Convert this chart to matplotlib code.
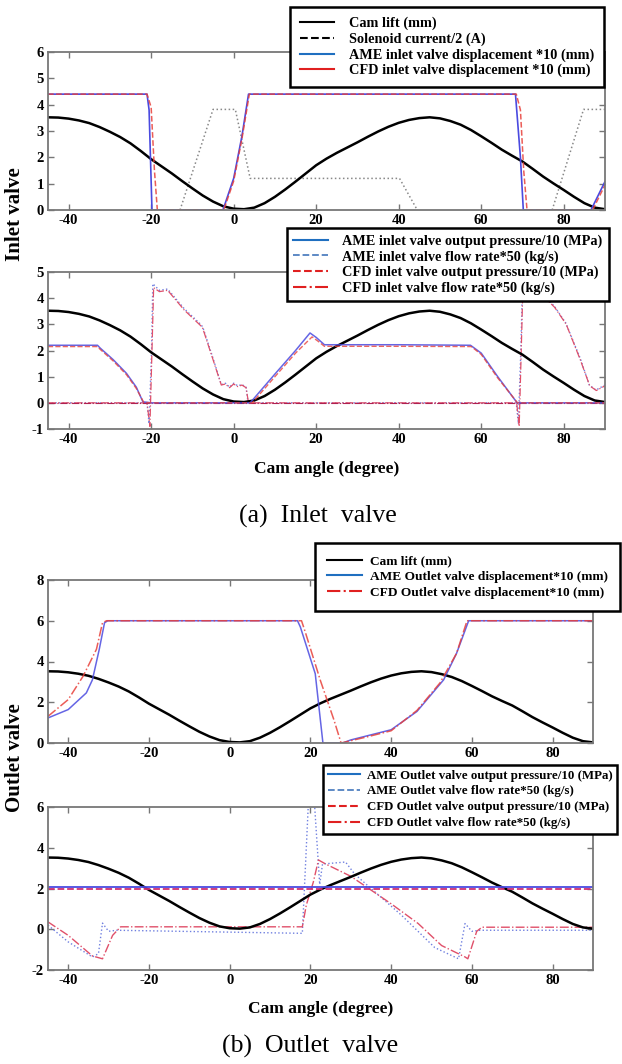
import matplotlib
matplotlib.use("Agg")
import matplotlib.pyplot as plt
from matplotlib.lines import Line2D
import numpy as np

plt.rcParams['font.family'] = ['Liberation Serif', 'DejaVu Serif']
plt.rcParams['axes.unicode_minus'] = False

# cam lift (mm), same profile in every panel
cam_angle = [-45, -42.5, -40, -37.5, -35, -32.5, -30, -27.5, -25, -22.5, -20, -17.5, -15, -12.5,
             -10, -7.5, -5, -2.5, 0, 2.5, 5, 7.5, 10, 12.5, 15, 17.5, 20, 22.5, 25, 27.5, 30,
             32.5, 35, 37.5, 40, 42.5, 45, 47.5, 50, 52.5, 55, 57.5, 60, 62.5, 65, 67.5, 70,
             72.5, 75, 77.5, 80, 82.5, 85, 87.5, 90]
cam_lift = [3.52, 3.51, 3.47, 3.40, 3.30, 3.15, 2.97, 2.77, 2.53, 2.24, 1.93, 1.66, 1.39, 1.10,
            0.82, 0.55, 0.32, 0.14, 0.05, 0.03, 0.09, 0.26, 0.50, 0.78, 1.08, 1.39, 1.70, 1.95,
            2.17, 2.37, 2.57, 2.78, 2.98, 3.16, 3.31, 3.42, 3.49, 3.52, 3.48, 3.38, 3.24, 3.04,
            2.80, 2.55, 2.29, 2.06, 1.84, 1.56, 1.27, 1.01, 0.76, 0.50, 0.26, 0.09, 0.03]

# (a) inlet valve, top panel
sol_angle = [-13, -5, 0.4, 4, 40.2, 44.5, np.nan, 77.2, 84.8, 90]
sol_current = [0, 3.82, 3.82, 1.2, 1.2, 0, np.nan, 0, 3.82, 3.82]

ame_in_disp_angle = [-45, -21, -20.5, -19.8, -2.6, 0, 2, 3.6, 68.3, 69.5, 70.2, 86.6, 90]
ame_in_disp = [4.4, 4.4, 3.8, 0, 0, 1.2, 2.8, 4.4, 4.4, 2.0, 0, 0, 1.08]
cfd_in_disp_angle = [-45, -21, -20, -19.2, -18.5, -2.4, 0, 2, 3.8, 68.5, 69.5, 70.3, 71.1, 87, 90]
cfd_in_disp = [4.4, 4.4, 3.9, 1.5, 0, 0, 1.1, 2.7, 4.4, 4.4, 3.8, 1.5, 0, 0, 0.95]

# (a) inlet valve, bottom panel
ame_in_p_angle = [-45, -33, -32.4, -29.2, -26, -23.6, -22, -20, 4, 10, 15, 18.5, 20, 22, 40,
                  57.4, 60, 64, 68.7, 90]
ame_in_p = [2.2, 2.2, 2.1, 1.65, 1.13, 0.6, 0.04, 0, 0, 1.1, 2.0, 2.67, 2.5, 2.22, 2.22,
            2.2, 1.9, 1.0, 0, 0]
cfd_in_p_angle = [-45, -33, -32.4, -29.2, -26, -23.6, -21.8, -20, 4.5, 10, 15, 19, 20.5, 22, 40,
                  57.6, 60, 64, 68.8, 90]
cfd_in_p = [2.15, 2.15, 2.05, 1.6, 1.08, 0.55, 0.02, 0, 0, 1.0, 1.9, 2.52, 2.35, 2.16, 2.16,
            2.15, 1.85, 0.95, 0, 0]

ame_in_q_angle = [-45, -21, -20.5, -19.9, -19.6, -18, -16, -12, -8, -7.5, -5, -3, -2, -1, 0, 1,
                  2, 3, 3.5, 68.5, 69, 69.6, 70, 71.5, 73.5, 77.7, 80.5, 84, 86.2, 87.8, 90]
ame_in_q = [0, 0, -0.8, 2.0, 4.55, 4.3, 4.35, 3.6, 3.0, 2.9, 1.7, 0.7, 0.75, 0.6, 0.75, 0.65,
            0.7, 0.6, 0, 0, -0.8, 2.0, 4.5, 4.3, 4.35, 3.7, 3.05, 1.7, 0.68, 0.49, 0.68]
cfd_in_q_angle = [-45, -21, -20.3, -19.8, -19.4, -18, -16, -12, -8, -7.5, -5, -3, -2, -1, 0, 1,
                  2, 3, 3.6, 68.6, 69.2, 69.7, 70.1, 71.6, 73.6, 77.8, 80.6, 84, 86.3, 87.9, 90]
cfd_in_q = [0, 0, -0.9, 2.0, 4.4, 4.25, 4.3, 3.55, 2.95, 2.85, 1.65, 0.68, 0.72, 0.58, 0.72, 0.62,
            0.68, 0.58, 0, 0, -0.9, 2.0, 4.45, 4.25, 4.3, 3.65, 3.0, 1.65, 0.65, 0.47, 0.65]

# (b) outlet valve, top panel
ame_out_disp_angle = [-45, -40, -35.5, -34, -32.3, -31, -30.2, 16.8, 17.5, 21.2, 23.1, 28, 30,
                      40, 46.4, 53, 56.2, 59.2, 90]
ame_out_disp = [1.23, 1.64, 2.46, 3.1, 4.6, 5.9, 6, 6, 5.7, 3.4, 0, 0, 0.15,
                0.65, 1.55, 3.1, 4.4, 6, 6]
cfd_out_disp_angle = [-45, -40, -36.3, -33, -31.5, -30.5, 17.8, 18.8, 22.5, 25.8, 27.6, 34,
                      40, 46.4, 52.1, 56.2, 58.8, 90]
cfd_out_disp = [1.31, 2.13, 3.28, 4.6, 5.9, 6, 6, 5.4, 3.05, 1.15, 0, 0.3,
                0.6, 1.6, 2.95, 4.4, 6, 6]

# (b) outlet valve, bottom panel
out_p_angle = [-45, 90]
ame_out_p = [2.05, 2.05]
cfd_out_p = [1.98, 1.98]

ame_out_q_angle = [-45, -40, -34, -32.5, -31.5, -30, -28, 18, 19.5, 21, 22.3, 23, 28.7, 31,
                   42.5, 50.8, 56.7, 58.3, 60, 62, 90]
ame_out_q = [0.2, -0.62, -1.36, -1.2, 0.3, -0.1, -0.05, -0.2, 6.2, 6.2, 2.2, 3.2, 3.3, 2.7,
             0.7, -0.9, -1.45, 0.28, -0.1, -0.05, -0.05]
cfd_out_q_angle = [-45, -40, -34, -31.5, -29, -27, 18, 19, 20.7, 22, 23.8, 30, 40, 46.7,
                   52.5, 58.3, 59, 61.2, 62.5, 90]
cfd_out_q = [0.36, -0.3, -1.31, -1.45, -0.3, 0.12, 0.12, 1.2, 2.3, 3.4, 3.2, 2.6, 1.25, 0.28,
             -0.8, -1.36, -1.45, -0.1, 0.1, 0.1]

x_ticks = [-40, -20, 0, 20, 40, 60, 80]

W, H = 622, 1064
fig = plt.figure(figsize=(W / 100, H / 100), dpi=100)


def px_axes(left, top, right, bottom):
    return fig.add_axes([left / W, 1 - bottom / H, (right - left) / W, (bottom - top) / H])


def style(ax, ylim, yticks):
    ax.set_xlim(-45, 90)
    ax.set_ylim(*ylim)
    ax.set_xticks(x_ticks)
    ax.set_yticks(yticks)
    ax.tick_params(direction='in', top=True, right=True, length=4, width=1,
                   color='#777777', labelsize=10.5, pad=3)
    for lab in ax.get_xticklabels() + ax.get_yticklabels():
        lab.set_fontweight('bold')
    for sp in ax.spines.values():
        sp.set_color('#777777')
        sp.set_linewidth(1.3)


blue = '#4a4ae0'
red = '#e8403a'
lblue = '#1f6fc0'

ax1 = px_axes(48, 52, 605, 210)
ax2 = px_axes(48, 272, 605, 429)
ax3 = px_axes(48, 580, 593, 743)
ax4 = px_axes(48, 807, 593, 970)

# panel 1
ax1.plot(sol_angle, sol_current, color='#888888', ls=':', lw=1.1)
ax1.plot(cam_angle, cam_lift, color='black', lw=1.8)
ax1.plot(ame_in_disp_angle, ame_in_disp, color=blue, lw=1.2)
ax1.plot(cfd_in_disp_angle, cfd_in_disp, color=red, ls='--', lw=1.1, alpha=0.85)
style(ax1, (0, 6), [0, 1, 2, 3, 4, 5, 6])

# panel 2
ax2.plot(ame_in_q_angle, ame_in_q, color='#7080e0', ls=':', lw=1.0)
ax2.plot(cfd_in_q_angle, cfd_in_q, color='#e0506a', ls='-.', lw=0.9)
ax2.axhline(0, color='#b02050', ls='-.', lw=0.8)
ax2.plot(cam_angle, cam_lift, color='black', lw=1.8)
ax2.plot(ame_in_p_angle, ame_in_p, color=blue, lw=1.1, alpha=0.85)
ax2.plot(cfd_in_p_angle, cfd_in_p, color=red, ls='--', lw=1.0, alpha=0.8)
style(ax2, (-1, 5), [-1, 0, 1, 2, 3, 4, 5])
ax2.set_xlabel('Cam angle (degree)', fontsize=12.5, fontweight='bold', labelpad=11)

# panel 3
ax3.plot(cam_angle, cam_lift, color='black', lw=1.8)
ax3.plot(ame_out_disp_angle, ame_out_disp, color=blue, lw=1.1, alpha=0.85)
ax3.plot(cfd_out_disp_angle, cfd_out_disp, color=red, ls='-.', lw=1.1, alpha=0.85)
style(ax3, (0, 8), [0, 2, 4, 6, 8])

# panel 4
ax4.plot(ame_out_q_angle, ame_out_q, color='#7080e0', ls=':', lw=1.0)
ax4.plot(cfd_out_q_angle, cfd_out_q, color='#e0506a', ls='-.', lw=1.0)
ax4.plot(cam_angle, cam_lift, color='black', lw=1.8)
ax4.plot(out_p_angle, ame_out_p, color=blue, lw=1.3)
ax4.plot(out_p_angle, cfd_out_p, color='#d03070', ls='--', lw=1.3)
style(ax4, (-2, 6), [-2, 0, 2, 4, 6])
ax4.set_xlabel('Cam angle (degree)', fontsize=12.5, fontweight='bold', labelpad=10)

fig.text(15 / W, 1 - 214 / H, 'Inlet valve', rotation=90, ha='center', va='center',
         fontsize=15, fontweight='bold')
fig.text(15 / W, 1 - 758 / H, 'Outlet valve', rotation=90, ha='center', va='center',
         fontsize=15, fontweight='bold')
fig.text(318 / W, 1 - 516 / H, '(a)  Inlet  valve', ha='center', va='center', fontsize=18.5)
fig.text(310 / W, 1 - 1046 / H, '(b)  Outlet  valve', ha='center', va='center', fontsize=18.5)


def add_legend(ax, handles, labels, left, top, size, hl, tp, bp, ls=0.15):
    leg = ax.legend(handles, labels, bbox_to_anchor=(left / W, 1 - top / H),
                    bbox_transform=fig.transFigure, loc='upper left', fancybox=False,
                    edgecolor='black', framealpha=1, borderaxespad=0,
                    handlelength=hl, handletextpad=tp, labelspacing=ls, borderpad=bp,
                    prop={'family': 'Liberation Serif', 'weight': 'bold', 'size': size})
    leg.get_frame().set_linewidth(1.8)
    leg.set_zorder(10)
    return leg


add_legend(ax1,
           [Line2D([], [], color='black', lw=1.5),
            Line2D([], [], color='black', ls='--', lw=1.5),
            Line2D([], [], color=lblue, lw=1.5),
            Line2D([], [], color='#e02020', lw=1.5)],
           ['Cam lift (mm)', 'Solenoid current/2 (A)',
            'AME inlet valve displacement *10 (mm)', 'CFD inlet valve displacement *10 (mm)'],
           290, 7, 10.3, 2.4, 1.0, 0.7)
add_legend(ax2,
           [Line2D([], [], color=lblue, lw=1.5),
            Line2D([], [], color='#5080c0', ls='--', lw=1.3),
            Line2D([], [], color='#e02020', ls='--', lw=1.5),
            Line2D([], [], color='#e02020', ls='-.', lw=1.5)],
           ['AME inlet valve output pressure/10 (MPa)', 'AME inlet valve flow rate*50 (kg/s)',
            'CFD inlet valve output pressure/10 (MPa)', 'CFD inlet valve flow rate*50 (kg/s)'],
           287, 228, 10.3, 2.4, 1.0, 0.45)
add_legend(ax3,
           [Line2D([], [], color='black', lw=1.5),
            Line2D([], [], color=lblue, lw=1.5),
            Line2D([], [], color='#e02020', ls='-.', lw=1.5)],
           ['Cam lift (mm)', 'AME Outlet valve displacement*10 (mm)',
            'CFD Outlet valve displacement*10 (mm)'],
           315, 543, 9.6, 2.6, 0.6, 0.9, 0.25)
add_legend(ax4,
           [Line2D([], [], color=lblue, lw=1.5),
            Line2D([], [], color='#5080c0', ls='--', lw=1.3),
            Line2D([], [], color='#e02020', ls='--', lw=1.5),
            Line2D([], [], color='#e02020', ls='-.', lw=1.5)],
           ['AME Outlet valve output pressure/10 (MPa)', 'AME Outlet valve flow rate*50 (kg/s)',
            'CFD Outlet valve output pressure/10 (MPa)', 'CFD Outlet valve flow rate*50 (kg/s)'],
           323, 765, 9.3, 2.5, 0.55, 0.35, 0.3)

fig.savefig('out.png', dpi=100)
